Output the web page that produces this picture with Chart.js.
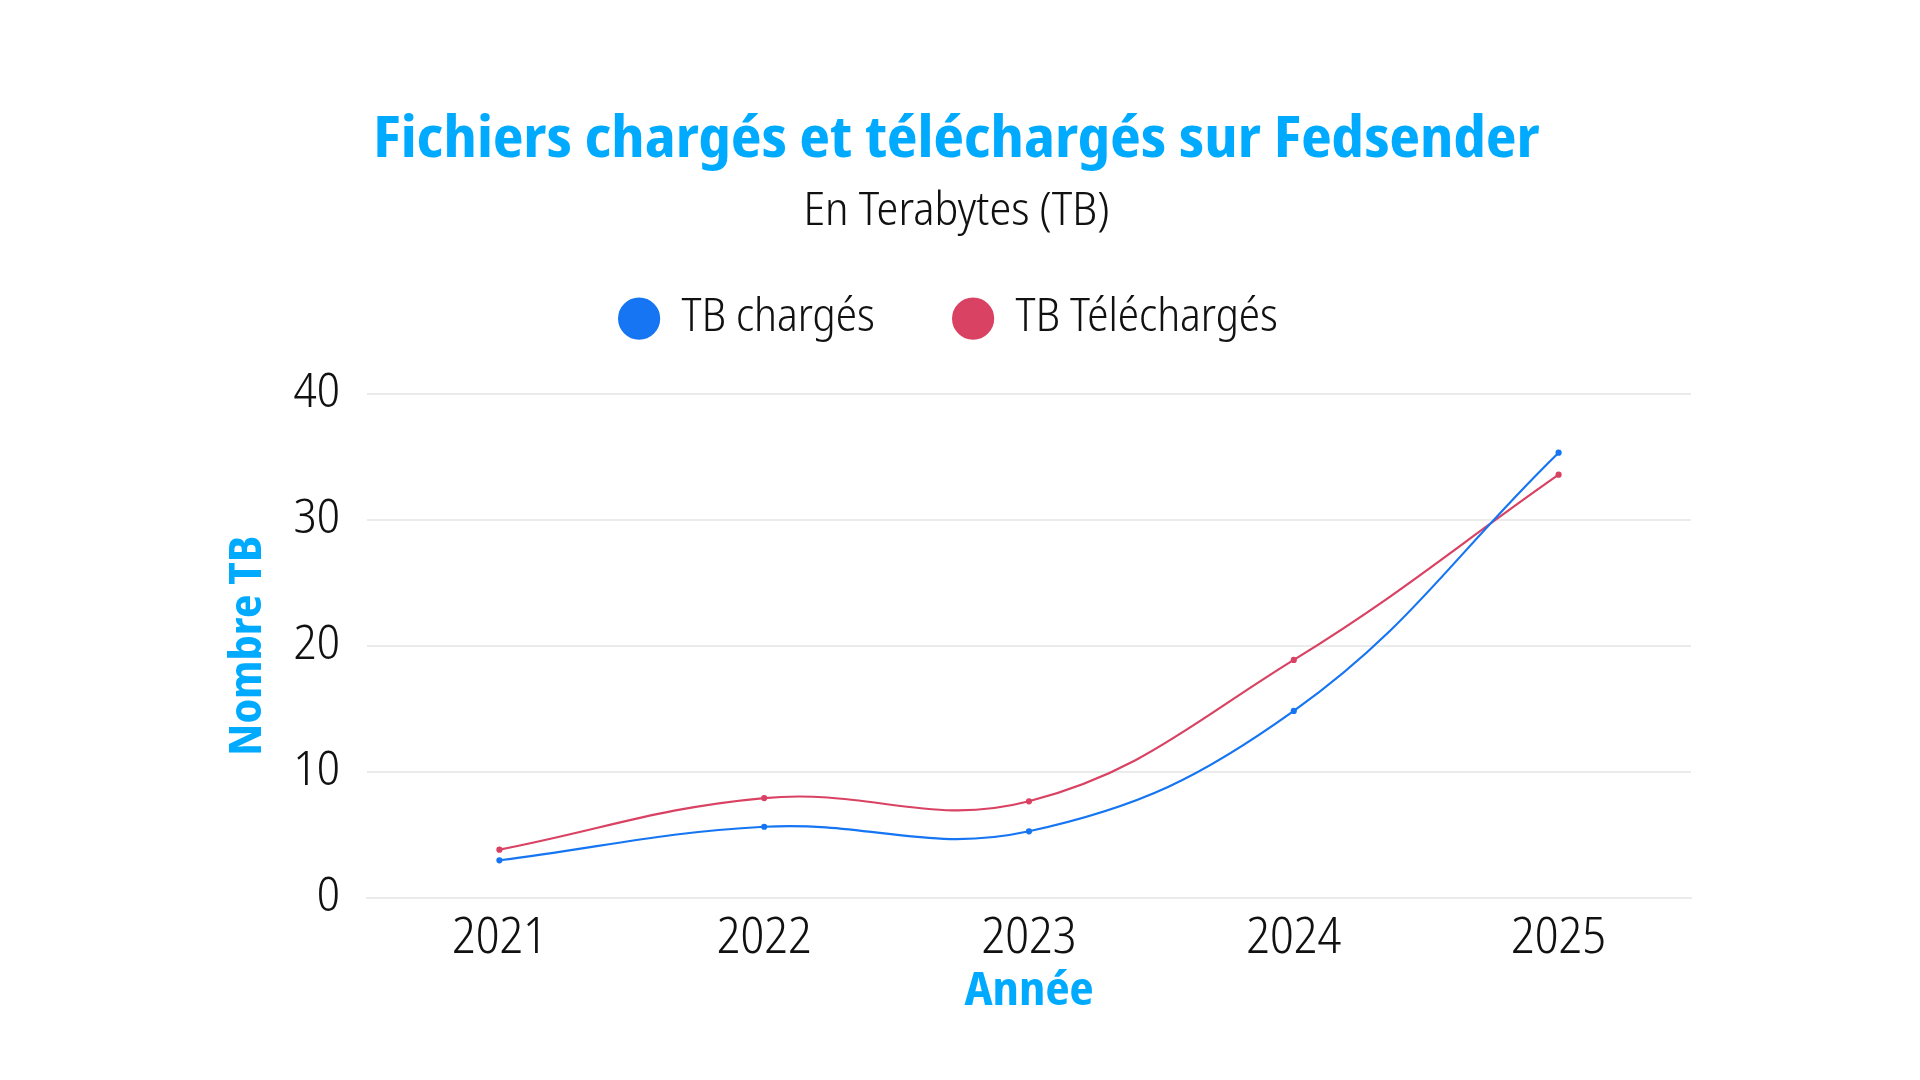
<!DOCTYPE html>
<html><head><meta charset="utf-8">
<script src="https://cdn.jsdelivr.net/npm/chart.js@4.4.1/dist/chart.umd.min.js"></script>
<style>html,body{margin:0;padding:0;background:#fff}#wrap{width:1920px;height:1080px;position:relative}</style>
</head><body><div id="wrap"><canvas id="c" width="1920" height="1080"></canvas></div>
<script>
const categories = ['2021','2022','2023','2024','2025'];
const tbCharges = [2.97, 5.63, 5.27, 14.82, 35.32];
const tbTelecharges = [3.81, 7.91, 7.65, 18.87, 33.57];
const yTicks = [0, 10, 20, 30, 40];
const seriesLabels = ['TB chargés', 'TB Téléchargés'];
const titleText = 'Fichiers chargés et téléchargés sur Fedsender';
const subtitleText = 'En Terabytes (TB)';
const xTitleText = 'Année';
const yTitleText = 'Nombre TB';

const FONT = "'Noto Sans Display', 'Open Sans'";
const LIGHT = 'condensed 300';
const BOLD = 'condensed bold';
const mctx = document.createElement('canvas').getContext('2d');
function tw(text, weight, size) { mctx.font = weight + ' ' + size + 'px ' + FONT; return mctx.measureText(text).width; }
function fit(text, weight, target) { return Math.round(100 * target / tw(text, weight, 100) * 10) / 10; }
const Ts = fit(titleText, BOLD, 1166);
const Ss = fit(subtitleText, LIGHT, 306);
const Ls = fit(seriesLabels[0], LIGHT, 193);
const Xs = fit('2021', LIGHT, 95);
const Ys = fit('40', LIGHT, 46.5);
const As = fit(xTitleText, BOLD, 129);
const Ns = fit(yTitleText, BOLD, 220);

// layout targets (px in the 1920x1080 canvas)
const chartTop = 393.7, chartBottom = 897.7, chartLeft = 367, chartRight = 1691, padLeft = 222;
const padTop = 140 - Ts / 2;
const titlePadBottom = 211.5 - 7 - padTop - Ts;
const boxH = 40;
const legendPad = 334 - boxH - Ls / 2 - tw(seriesLabels[0], LIGHT, Ls);
const itemH = Math.max(Ls, boxH);
const legendTop = 318.6 - legendPad - itemH / 2;
const subPadBottom = legendTop - 218.5;
const legendBottom = legendTop + itemH + legendPad + 10;
const topGap = chartTop - legendBottom;
const xAxisH = 120;
const padBottom = 1080 - chartBottom - xAxisH;
const xTickPad = 39.3 - 0.55 * Xs;
const legendShiftX = -8;

const legendShift = { id: 'legendShift', afterLayout(chart) { if (chart.legend) { chart.legend.left += legendShiftX; chart.legend.right += legendShiftX; } } };

new Chart(document.getElementById('c'), {
  type: 'line',
  plugins: [legendShift],
  data: { labels: categories, datasets: [
    { label: seriesLabels[0], data: tbCharges, borderColor: '#1575f2', backgroundColor: '#1575f2', borderWidth: 2.2, pointRadius: 2, pointHoverRadius: 2, tension: 0.4, xAxisID: 'x' },
    { label: seriesLabels[1], data: tbTelecharges, borderColor: '#d94263', backgroundColor: '#d94263', borderWidth: 2.2, pointRadius: 2, pointHoverRadius: 2, tension: 0.4, xAxisID: 'x' }
  ]},
  options: {
    responsive: false, animation: false,
    layout: { padding: { left: padLeft, right: 1920 - chartRight, top: padTop, bottom: padBottom } },
    plugins: {
      title: { display: true, text: titleText, color: '#00aaff', font: { family: FONT, size: Ts, weight: BOLD, lineHeight: 1 }, padding: { top: 0, bottom: titlePadBottom } },
      subtitle: { display: true, text: subtitleText, color: '#111111', font: { family: FONT, size: Ss, weight: LIGHT, lineHeight: '14px' }, padding: { top: 0, bottom: subPadBottom } },
      legend: { labels: { boxWidth: boxH, boxHeight: boxH, useBorderRadius: true, borderRadius: boxH / 2, padding: legendPad, color: '#111111', font: { family: FONT, size: Ls, weight: LIGHT } } },
      tooltip: { enabled: false }
    },
    scales: {
      xTop: { type: 'category', position: 'top', labels: categories, offset: true, grid: { display: false, drawTicks: false }, border: { display: false }, ticks: { display: false }, afterFit: s => { s.height = topGap; } },
      x: { position: 'bottom', offset: true, grid: { display: false, drawTicks: false }, border: { color: '#ebebeb', width: 2 },
           afterFit: s => { s.height = xAxisH; },
           ticks: { color: '#111111', padding: xTickPad, font: { family: FONT, size: Xs, weight: LIGHT } },
           title: { display: true, text: xTitleText, color: '#00aaff', font: { family: FONT, size: As, weight: BOLD, lineHeight: '40px' }, padding: { top: 0, bottom: 6 } } },
      y: { min: 0, max: 40, grid: { color: '#ebebeb', lineWidth: 2, drawTicks: false }, border: { display: false },
           afterBuildTicks: s => { s.ticks = yTicks.map(v => ({ value: v })); },
           afterFit: s => { s.width = chartLeft - padLeft; },
           ticks: { color: '#111111', padding: 27, font: { family: FONT, size: Ys, weight: LIGHT } },
           title: { display: true, text: yTitleText, color: '#00aaff', font: { family: FONT, size: Ns, weight: BOLD, lineHeight: '40px' }, padding: { top: 6.3, bottom: 0 } } }
    }
  }
});
</script></body></html>
